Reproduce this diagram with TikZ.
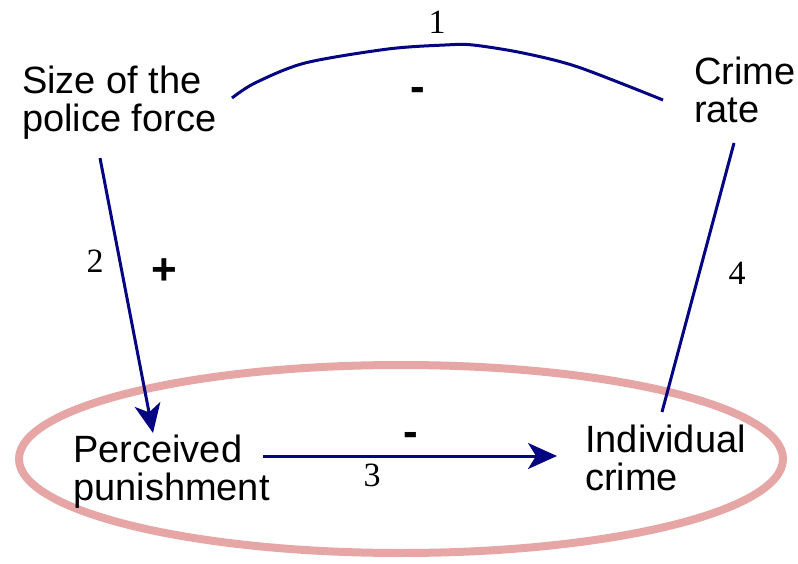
\documentclass[tikz,border=0pt]{standalone}
\usepackage{fontspec}
\setmainfont{Liberation Sans}
\newfontfamily\numfont{Liberation Serif}
\usetikzlibrary{arrows.meta}
\definecolor{linkblue}{RGB}{5,5,130}
\definecolor{loopred}{RGB}{231,166,166}
\tikzset{
  label/.style={anchor=base west, inner sep=0pt, align=left,
    font=\fontsize{38}{38}\selectfont},
  num/.style={inner sep=0pt, font=\numfont\fontsize{34}{34}\selectfont},
  sign/.style={inner sep=0pt, font=\bfseries\fontsize{44}{44}\selectfont},
  link/.style={draw=linkblue, line width=3pt},
  arrowed/.style={link, -{Stealth[length=29pt, width=26pt, inset=8pt]}},
}
\begin{document}
\begin{tikzpicture}[x=1pt, y=-1pt]
\useasboundingbox (0,0) rectangle (798,564);
% loop ellipse
\draw[loopred, line width=8pt] (401,459) ellipse [x radius=382, y radius=94];
% variables (base anchor = baseline of the last line)
\node[label] (size) at (22,132) {Size of the\\police force};
\node[label] (crime) at (694,123) {Crime\\rate};
\node[label] (perc) at (73,500) {Perceived\\punishment};
\node[label] (indiv) at (585,490) {Individual\\crime};
% connector end points
\coordinate (s1) at (232,98);
\coordinate (c1) at (663,100);
\coordinate (s2) at (100,158);
\coordinate (p2) at (153,433);
\coordinate (p3) at (263,456);
\coordinate (i3) at (557,456);
\coordinate (c4) at (734,143);
\coordinate (i4) at (662,412);
% connectors
\draw[link] plot[smooth, tension=0.5] coordinates {(s1) (255,83) (305,63) (388,49) (445,45) (473,45) (523,53) (578,67) (c1)};
\draw[arrowed] (s2) -- (p2);
\draw[arrowed] (p3) -- (i3);
\draw[link] (c4) -- (i4);
% numbers
\node[num] (n1) at (437,22) {1};
\node[num] (n2) at (95,261) {2};
\node[num] (n3) at (372,475) {3};
\node[num] (n4) at (737,273) {4};
% signs
\node[sign] (g1) at (418,94) {-};
\node[sign] (g2) at (164,272) {+};
\node[sign] (g3) at (411,439) {-};
\end{tikzpicture}
\end{document}
